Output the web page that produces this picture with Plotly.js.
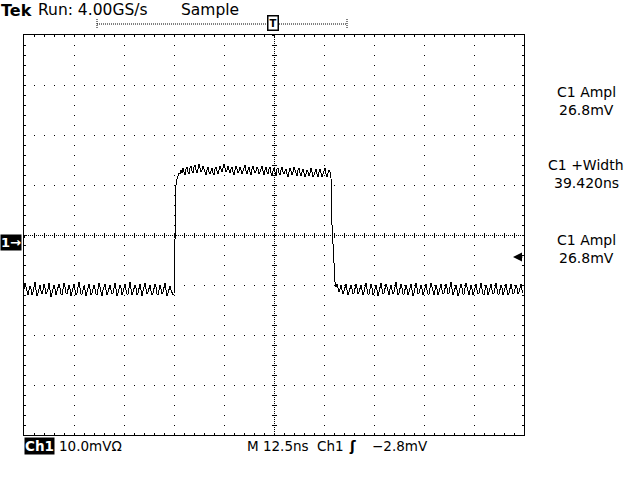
<!DOCTYPE html>
<html>
<head>
<meta charset="utf-8">
<script src="https://cdn.plot.ly/plotly-3.0.1.min.js"></script>
<style>
html,body{margin:0;padding:0;background:#fff;}
#chart{width:640px;height:480px;}
#chart path.js-line{shape-rendering:crispEdges;}
</style>
</head>
<body>
<div id="chart"></div>
<script>
// Sample clock: 4.00 GS/s -> 0.25 ns per sample; record starts at left edge of screen
const sampleStartNs = -62.5;
const sampleStepNs = 0.25;

const baselineBefore = [
  -9.6,-8.4,-9.2,-10.4,-10.8,-9.8,-9.0,-9.6,-10.8,-10.2,
  -9.2,-8.2,-9.8,-11.0,-10.4,-9.4,-8.8,-10.0,-10.6,-9.8,
  -8.6,-9.4,-10.6,-10.2,-9.6,-8.4,-9.8,-11.2,-10.4,-9.2,
  -8.8,-9.6,-10.8,-10.0,-9.4,-8.6,-9.4,-10.6,-10.8,-9.6,
  -8.4,-9.2,-10.4,-10.6,-9.8,-8.8,-9.6,-11.0,-10.2,-9.0,
  -8.6,-9.8,-10.8,-10.4,-9.2,-8.2,-9.4,-10.6,-10.6,-9.6,
  -9.0,-9.8,-11.0,-10.2,-9.4,-8.6,-9.6,-10.8,-10.4,-9.4,
  -8.8,-9.6,-10.6,-10.8,-9.8,-8.4,-9.2,-10.4,-11.0,-9.8,
  -9.0,-8.6,-9.8,-10.8,-10.2,-9.2,-8.8,-9.8,-10.6,-10.4,
  -9.4,-8.4,-9.6,-11.0,-10.4,-9.6,-8.8,-9.4,-10.8,-10.2,
  -9.2,-8.6,-9.8,-10.6,-10.6,-9.4,-8.2,-9.6,-10.8,-10.2,
  -9.6,-8.8,-9.4,-10.8,-10.4,-9.2,-8.6,-9.8,-11.0,-10.0,
  -9.0,-8.4,-9.6,-10.6,-10.2,-9.4,-8.8,-10.0,-10.8,-10.4,
  -9.4,-8.6,-9.2,-10.6,-10.8,-9.8,-8.8,-9.6,-10.6,-10.2,
  -9.2,-8.4,-9.8,-11.0,-10.4,-9.6,-9.0,-9.8,-10.6,-10.8
];
const risingEdge = [-10.6, 6.2, 11.2, 12.4, 13.2, 13.6];
const pulseTop = [
  13.4,14.2,13.6,14.6,13.8,13.2,14.4,14.8,13.8,13.4,
  14.6,15.0,14.0,13.6,14.8,15.2,14.2,13.6,14.4,15.4,
  14.6,13.8,14.2,15.0,14.4,13.6,13.2,14.2,14.8,13.8,
  13.4,14.0,14.6,13.6,13.2,14.4,14.8,14.0,13.4,14.2,
  15.0,14.4,13.8,14.6,15.4,14.6,13.8,14.2,15.0,14.2,
  13.6,14.4,14.8,13.8,13.2,14.2,15.0,14.4,13.6,14.0,
  14.8,14.2,13.4,14.0,14.8,15.2,14.0,13.4,14.2,14.8,
  13.8,13.2,14.4,15.0,14.2,13.6,14.0,14.8,14.4,13.4,
  13.8,14.6,15.0,14.0,13.2,14.2,14.8,13.8,13.4,14.4,
  14.8,13.6,13.0,14.0,14.6,13.8,13.2,14.4,14.6,13.6,
  13.2,14.2,14.8,13.8,13.4,14.0,14.4,13.4,12.8,13.8,
  14.6,14.0,13.2,13.8,14.8,14.2,13.4,13.0,14.2,14.6,
  13.6,13.0,13.8,14.4,13.6,12.8,13.4,14.2,13.8,13.0,
  13.6,14.6,13.8,12.8,13.2,14.0,14.4,13.4,12.8,13.8,
  14.4,13.6,12.8,13.4,14.2,14.6,13.4,12.8,13.6,14.2
];
const fallingEdge = [13.8, 12.6, 3.2, -1.8, -5.4, -8.2, -9.2, -8.6];
const baselineAfter = [
  -9.4,-10.2,-9.6,-8.8,-9.8,-10.6,-10.0,-9.2,-8.6,-9.8,
  -10.8,-10.2,-9.4,-8.8,-9.6,-10.6,-10.4,-9.6,-8.6,-9.4,
  -10.6,-10.2,-9.2,-8.8,-9.8,-10.8,-10.2,-9.4,-8.4,-9.6,
  -10.6,-10.6,-9.8,-8.6,-9.4,-10.8,-10.4,-9.4,-8.8,-9.8,
  -11.0,-10.2,-9.2,-8.4,-9.6,-10.6,-10.4,-9.6,-8.6,-9.2,
  -10.4,-10.8,-9.6,-8.8,-9.8,-10.6,-10.2,-9.2,-8.2,-9.6,
  -10.8,-10.4,-9.4,-8.6,-9.4,-10.6,-10.6,-9.8,-8.8,-9.6,
  -10.8,-10.2,-9.2,-8.6,-9.8,-11.0,-10.4,-9.4,-8.4,-9.4,
  -10.6,-10.4,-9.6,-8.8,-9.6,-10.8,-10.2,-9.2,-8.6,-9.8,
  -10.6,-10.6,-9.4,-8.4,-9.2,-10.4,-10.8,-9.8,-8.8,-9.6,
  -10.8,-10.2,-9.4,-8.6,-9.8,-10.6,-10.4,-9.6,-8.6,-9.4,
  -10.6,-10.4,-9.2,-8.2,-9.6,-10.8,-10.2,-9.4,-8.8,-9.8,
  -11.0,-10.4,-9.6,-8.6,-9.4,-10.6,-10.6,-9.6,-8.4,-9.2,
  -10.4,-10.8,-9.8,-8.8,-9.6,-10.8,-10.2,-9.2,-8.6,-9.8,
  -10.6,-10.4,-9.4,-8.4,-9.6,-10.6,-10.8,-9.6,-8.8,-9.4,
  -10.8,-10.2,-9.2,-8.6,-9.8,-10.6,-10.4,-9.4,-8.4,-9.6,
  -10.6,-10.6,-9.6,-8.8,-9.4,-10.8,-10.2,-9.2,-8.6,-9.8,
  -10.8,-10.4,-9.4,-8.6,-9.6,-10.6,-10.4,-9.6,-8.8,-9.4,
  -10.6,-10.2,-9.4,-8.6,-9.8,-10.4
];

// Screen settings
const timeRange = [-62.5, 62.5];   // 12.5 ns/div, 10 div
const voltRange = [-38.8, 41.2];   // 10 mV/div, 8 div, ground 0.6 div below centre
const timePerDiv = 12.5;
const voltPerDiv = 10;
const centreVolt = 1.2;

// Readouts
const headerTexts = ["Tek", "Run: 4.00GS/s", "Sample"];
const measLabels = ["C1 Ampl", "C1 +Width", "C1 Ampl"];
const measValues = ["26.8mV", "39.420ns", "26.8mV"];
const footerTexts = ["Ch1", "10.0mVΩ", "M 12.5ns", "Ch1", "ʃ", "−2.8mV"];

const volts = [].concat(baselineBefore, risingEdge, pulseTop, fallingEdge, baselineAfter);
const times = volts.map((_, i) => sampleStartNs + i * sampleStepNs);

// pixel helpers for decorations (plot area is 24..524 x 35..435)
const L = 24, T = 35, W = 500, H = 400;
const px = x => (x - L) / W;
const py = y => (T + H - y) / H;

const FONT = "DejaVu Sans";
const blk = "#000";

function txt(text, x, y, xanchor, size, extra) {
  return Object.assign({
    text: text, xref: "paper", yref: "paper", x: px(x), y: py(y),
    xanchor: xanchor, yanchor: "middle", showarrow: false,
    font: {family: FONT, size: size, color: blk}, borderpad: 0
  }, extra || {});
}

const annotations = [
  txt("<b>" + headerTexts[0] + "</b>", 0, 0, "left", 16, {yanchor: "top"}),
  txt(headerTexts[1], 37, 0, "left", 15.5, {yanchor: "top"}),
  txt(headerTexts[2], 180, 0, "left", 15.5, {yanchor: "top"}),
  txt("<b>T</b>", 273, 23, "center", 10, {bordercolor: blk, borderwidth: 1.5, bgcolor: "#fff", borderpad: 1}),
  txt(measLabels[0], 586, 101, "center", 14, {yanchor: "bottom"}),
  txt(measValues[0], 586, 101, "center", 14, {yanchor: "top"}),
  txt(measLabels[1], 586, 174, "center", 14, {yanchor: "bottom"}),
  txt(measValues[1], 586, 174, "center", 14, {yanchor: "top"}),
  txt(measLabels[2], 586, 249, "center", 14, {yanchor: "bottom"}),
  txt(measValues[2], 586, 249, "center", 14, {yanchor: "top"}),
  txt("<b>1→</b>", 0, 242, "left", 13, {bgcolor: blk, font: {family: FONT, size: 13, color: "#fff"}}),
  txt("<b>" + footerTexts[0] + "</b>", 24, 446, "left", 13.5, {bgcolor: blk, font: {family: FONT, size: 13.5, color: "#fff"}}),
  txt(footerTexts[1], 58, 446, "left", 13.5),
  txt(footerTexts[2], 246, 446, "left", 13.5),
  txt(footerTexts[3], 316, 446, "left", 13.5),
  txt("<b>" + footerTexts[4] + "</b>", 352, 446, "center", 13.5),
  txt(footerTexts[5], 371, 446, "left", 13.5),
  {xref: "paper", yref: "paper", x: px(513), y: py(257), text: "", showarrow: true,
   ax: 11, ay: 0, arrowhead: 2, arrowsize: 1.8, arrowwidth: 1, arrowcolor: blk, standoff: 0}
];

const shapes = [
  {type: "line", xref: "paper", yref: "paper", x0: px(97), x1: px(347), y0: py(24), y1: py(24),
   line: {color: blk, width: 1, dash: "1px,1px"}},
  {type: "line", xref: "paper", yref: "paper", x0: px(97), x1: px(97), y0: py(19), y1: py(29),
   line: {color: blk, width: 1, dash: "1px,1px"}},
  {type: "line", xref: "paper", yref: "paper", x0: px(347), x1: px(347), y0: py(19), y1: py(29),
   line: {color: blk, width: 1, dash: "1px,1px"}}
];

const baseAxis = {
  showticklabels: false, zeroline: false, fixedrange: true, showline: false, showgrid: false, ticks: ""
};

const layout = {
  width: 640, height: 480,
  margin: {l: L, r: 640 - L - W, t: T, b: 480 - T - H, pad: 0},
  paper_bgcolor: "#fff", plot_bgcolor: "#fff",
  showlegend: false,
  font: {family: FONT, color: blk},
  xaxis: Object.assign({}, baseAxis, {
    range: timeRange, tick0: timeRange[0], dtick: timePerDiv,
    showgrid: true, gridcolor: blk, gridwidth: 1, griddash: "1px,9px",
    showline: true, linecolor: blk, linewidth: 1, mirror: "allticks",
    ticks: "inside", ticklen: 2, tickcolor: blk, tickwidth: 1,
    minor: {tick0: timeRange[0], dtick: timePerDiv / 5, ticks: "inside", ticklen: 2, tickcolor: blk, tickwidth: 1, showgrid: false}
  }),
  yaxis: Object.assign({}, baseAxis, {
    range: voltRange, tick0: centreVolt, dtick: voltPerDiv,
    showgrid: true, gridcolor: blk, gridwidth: 1, griddash: "1px,9px",
    showline: true, linecolor: blk, linewidth: 1, mirror: "allticks",
    ticks: "inside", ticklen: 2, tickcolor: blk, tickwidth: 1,
    minor: {tick0: centreVolt, dtick: voltPerDiv / 5, ticks: "inside", ticklen: 2, tickcolor: blk, tickwidth: 1, showgrid: false}
  }),
  // centre vertical line
  xaxis2: Object.assign({}, baseAxis, {
    overlaying: "x", range: timeRange, tickmode: "array", tickvals: [0],
    showgrid: true, gridcolor: blk, gridwidth: 1, griddash: "1px,1px"
  }),
  // cross ticks on centre horizontal line
  xaxis3: Object.assign({}, baseAxis, {
    overlaying: "x", range: timeRange, anchor: "free", position: 0.5,
    tick0: 0, dtick: timePerDiv / 5, ticks: "outside", ticklen: 2, tickcolor: blk, tickwidth: 1
  }),
  xaxis4: Object.assign({}, baseAxis, {
    overlaying: "x", range: timeRange, anchor: "free", position: 0.5,
    tick0: 0, dtick: timePerDiv / 5, ticks: "inside", ticklen: 2, tickcolor: blk, tickwidth: 1
  }),
  // centre horizontal line
  yaxis2: Object.assign({}, baseAxis, {
    overlaying: "y", range: voltRange, tickmode: "array", tickvals: [centreVolt],
    showgrid: true, gridcolor: blk, gridwidth: 1, griddash: "1px,1px"
  }),
  // cross ticks on centre vertical line
  yaxis3: Object.assign({}, baseAxis, {
    overlaying: "y", range: voltRange, anchor: "free", position: 0.5,
    tick0: centreVolt, dtick: voltPerDiv / 5, ticks: "outside", ticklen: 2, tickcolor: blk, tickwidth: 1
  }),
  yaxis4: Object.assign({}, baseAxis, {
    overlaying: "y", range: voltRange, anchor: "free", position: 0.5,
    tick0: centreVolt, dtick: voltPerDiv / 5, ticks: "inside", ticklen: 2, tickcolor: blk, tickwidth: 1
  }),
  annotations: annotations,
  shapes: shapes
};

const traces = [
  {type: "scatter", mode: "lines", x: [], y: [], xaxis: "x2", yaxis: "y2", hoverinfo: "skip"},
  {type: "scatter", mode: "lines", x: [], y: [], xaxis: "x3", yaxis: "y3", hoverinfo: "skip"},
  {type: "scatter", mode: "lines", x: [], y: [], xaxis: "x4", yaxis: "y4", hoverinfo: "skip"},
  {type: "scatter", mode: "lines", x: times, y: volts, xaxis: "x", yaxis: "y",
   line: {color: blk, width: 1, shape: "linear"}, hoverinfo: "skip"}
];

Plotly.newPlot("chart", traces, layout, {staticPlot: true, displayModeBar: false});
</script>
</body>
</html>
